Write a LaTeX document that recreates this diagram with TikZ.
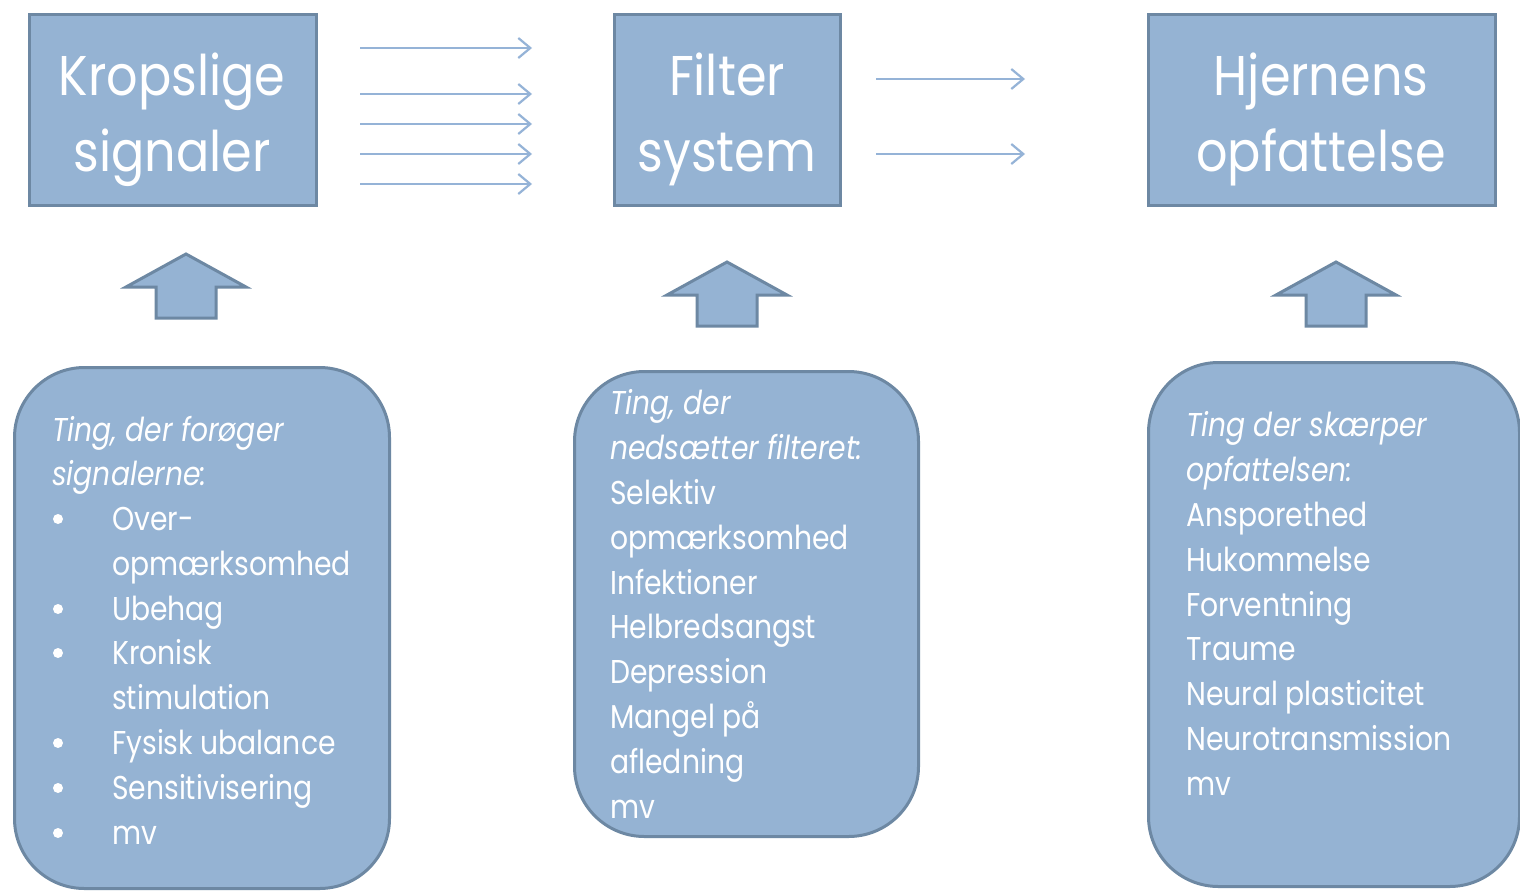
\documentclass[tikz,border=0pt]{standalone}
\usepackage{fontspec}
\setmainfont{Poppins}[FakeStretch=0.88]
\newfontfamily\bodyfont{Poppins}[FakeStretch=0.855]
\usetikzlibrary{arrows.meta}
\definecolor{boxfill}{HTML}{95B3D3}
\definecolor{boxline}{HTML}{6D88A3}
\definecolor{arrline}{HTML}{95B3D7}
\begin{document}
\begin{tikzpicture}[x=1pt,y=-1pt,
 sqbox/.style={draw=boxline, fill=boxfill, line width=3pt, inner sep=0pt},
 rbox/.style={draw=boxline, fill=boxfill, line width=3pt, rounded corners=70pt, inner sep=0pt},
 title/.style={text=white, font=\fontsize{56}{60}\selectfont, anchor=base, inner sep=0pt},
 body/.style={text=white, font=\bodyfont\fontsize{33}{40}\selectfont, anchor=base west, inner sep=0pt},
 ibody/.style={text=white, font=\bodyfont\fontsize{33}{40}\selectfont\itshape, anchor=base west, inner sep=0pt},
 bul/.style={circle, fill=white, inner sep=0pt, minimum size=10pt},
 flow/.style={draw=arrline, line width=2.2pt, -{Straight Barb[length=12pt,width=20pt,line width=2.2pt]}},
 blockarr/.style={draw=boxline, fill=boxfill, line width=3pt, line join=miter}
]
\useasboundingbox (0,0) rectangle (1520,892);
\fill[white] (0,0) rectangle (1520,892);

% top boxes
\node[sqbox, minimum width=287pt, minimum height=191pt] (kb) at (172.5,109.5) {};
\node[sqbox, minimum width=226pt, minimum height=191pt] (fb) at (727,109.5) {};
\node[sqbox, minimum width=347pt, minimum height=191pt] (hb) at (1321.5,109.5) {};
\node[title] (k1) at (172,95) {Kropslige};
\node[title] (k2) at (172,171) {signaler};
\node[title] (f1) at (727,95) {Filter};
\node[title] (f2) at (727,171) {system};
\node[title] (h1) at (1321,95) {Hjernens};
\node[title] (h2) at (1321,171) {opfattelse};

% flow arrows
\foreach \y [count=\i] in {48,94,124,154,184}{
  \coordinate (ls\i) at (360,\y);
  \coordinate (le\i) at (532,\y);
  \draw[flow] (ls\i) -- (le\i);
}
\foreach \y [count=\i] in {79,154}{
  \coordinate (ms\i) at (876,\y);
  \coordinate (me\i) at (1025,\y);
  \draw[flow] (ms\i) -- (me\i);
}

% block arrows
\foreach \dx/\dy in {0/0,541/8,1150/8}{
  \begin{scope}[shift={(\dx,\dy)}]
  \path[blockarr] (186,254) -- (246,287) -- (216,287) -- (216,318) -- (156,318) -- (156,287) -- (126,287) -- cycle;
  \end{scope}
}

% rounded boxes
\node[rbox, minimum width=375pt, minimum height=521pt] (ba) at (202,628) {};
\node[rbox, minimum width=344pt, minimum height=465pt] (bb) at (746.5,604) {};
\node[rbox, minimum width=371pt, minimum height=524pt] (bc) at (1334,624.5) {};

% box A text
\node[ibody] (a1) at (52,441) {Ting, der forøger};
\node[ibody] (a2) at (52,485) {signalerne:};
\node[bul] (ab3) at (58,519) {};
\node[body] (a3) at (112,530) {Over-};
\node[body] (a4) at (112,575) {opmærksomhed};
\node[bul] (ab5) at (58,609) {};
\node[body] (a5) at (112,620) {Ubehag};
\node[bul] (ab6) at (58,653) {};
\node[body] (a6) at (112,664) {Kronisk};
\node[body] (a7) at (112,709) {stimulation};
\node[bul] (ab8) at (58,743) {};
\node[body] (a8) at (112,754) {Fysisk ubalance};
\node[bul] (ab9) at (58,788) {};
\node[body] (a9) at (112,799) {Sensitivisering};
\node[bul] (ab10) at (58,833) {};
\node[body] (a10) at (112,844) {mv};

% box B text
\node[ibody] (b1) at (610,414) {Ting, der};
\node[ibody] (b2) at (610,459) {nedsætter filteret:};
\node[body] (b3) at (610,504) {Selektiv};
\node[body] (b4) at (610,549) {opmærksomhed};
\node[body] (b5) at (610,594) {Infektioner};
\node[body] (b6) at (610,638) {Helbredsangst};
\node[body] (b7) at (610,683) {Depression};
\node[body] (b8) at (610,728) {Mangel på};
\node[body] (b9) at (610,773) {afledning};
\node[body] (b10) at (610,818) {mv};

% box C text
\node[ibody] (c1) at (1186,436) {Ting der skærper};
\node[ibody] (c2) at (1186,481) {opfattelsen:};
\node[body] (c3) at (1186,526) {Ansporethed};
\node[body] (c4) at (1186,571) {Hukommelse};
\node[body] (c5) at (1186,616) {Forventning};
\node[body] (c6) at (1186,660) {Traume};
\node[body] (c7) at (1186,705) {Neural plasticitet};
\node[body] (c8) at (1186,750) {Neurotransmission};
\node[body] (c9) at (1186,795) {mv};
\end{tikzpicture}
\end{document}
